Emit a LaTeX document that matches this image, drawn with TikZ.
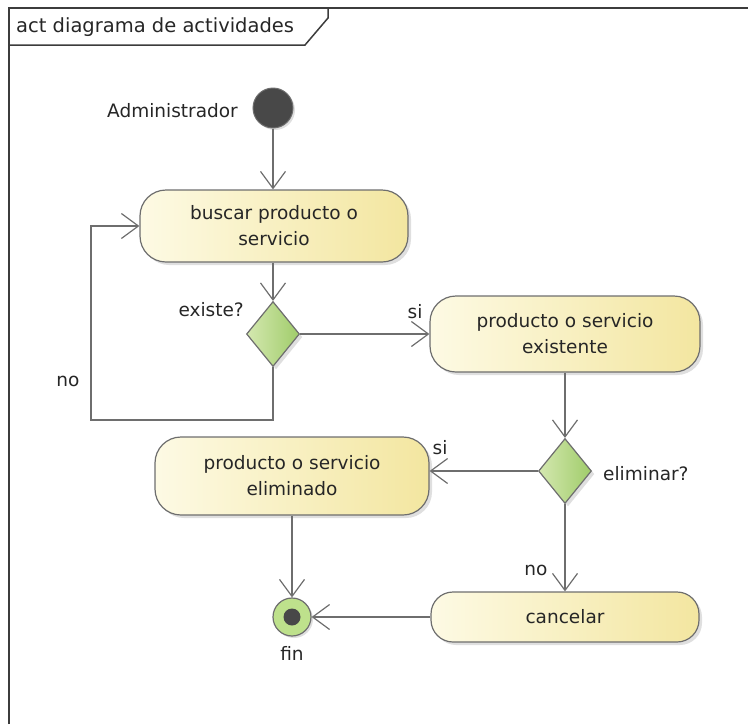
\documentclass[tikz,border=0pt]{standalone}
\usepackage{fontspec}
\setmainfont{DejaVu Sans}
\usepackage{tikz}
\usetikzlibrary{shapes.geometric, arrows.meta, positioning, calc, shadows}
\definecolor{framegray}{RGB}{60, 60, 60}
\definecolor{linegray}{RGB}{110, 110, 110}
\definecolor{creamleft}{RGB}{253, 250, 228}
\definecolor{creamright}{RGB}{243, 230, 160}
\definecolor{greenleft}{RGB}{212, 232, 176}
\definecolor{greenright}{RGB}{160, 204, 106}
\definecolor{startgray}{RGB}{72, 72, 72}
\definecolor{fingreen}{RGB}{190, 225, 140}
\tikzstyle{activity} = [rectangle, draw=linegray, left color=creamleft, right color=creamright, text=black!85, align=center, rounded corners=26pt, minimum width=270pt, line width=1.2pt, drop shadow={opacity=0.25, shadow xshift=3pt, shadow yshift=-3pt}]
\tikzstyle{decision} = [diamond, draw=linegray, left color=greenleft, right color=greenright, inner sep=0pt, minimum width=53pt, minimum height=65pt, line width=1.2pt, drop shadow={opacity=0.25, shadow xshift=3pt, shadow yshift=-3pt}]
\tikzstyle{arrow} = [-{Straight Barb[length=17pt, width=25pt, line width=1.2pt]}, draw=linegray, line width=1.2pt]
\tikzstyle{lbl} = [inner sep=0pt, text=black!85]

\begin{document}
\begin{tikzpicture}[x=1pt, y=-1pt, font=\fontsize{18.5}{26}\selectfont]
    \useasboundingbox (0,0) rectangle (748,724);

    % Frame
    \draw[framegray, line width=2pt] (9,724) -- (9,8) -- (748,8);
    \draw[framegray, line width=1.5pt] (9,45) -- (305,45) -- (328,18) -- (328,8);
    \node[lbl, anchor=west, font=\fontsize{19.5}{26}\selectfont] (title) at (16,27) {act diagrama de actividades};

    % Start
    \node[circle, draw=linegray, fill=startgray, minimum size=40pt, line width=1pt, drop shadow={opacity=0.25, shadow xshift=2pt, shadow yshift=-2pt}] (start) at (273,108) {};
    \node[lbl, anchor=east] (actor) at (238,111) {Administrador};

    % Search
    \node[activity, minimum width=268pt, minimum height=72pt] (buscar) at (274,226) {buscar producto o\\servicio};

    % Exists?
    \node[decision] (existe) at (273,334) {};
    \node[lbl, anchor=east] (existelbl) at (244,310) {existe?};

    % Existing
    \node[activity, minimum height=76pt] (existente) at (565,334) {producto o servicio\\existente};

    % Delete?
    \node[decision] (eliminar) at (565,471) {};
    \node[lbl, anchor=west] (eliminarlbl) at (603,474) {eliminar?};

    % Deleted
    \node[activity, minimum width=274pt, minimum height=78pt] (eliminado) at (292,476) {producto o servicio\\eliminado};

    % Cancel
    \node[activity, minimum width=268pt, minimum height=50pt, rounded corners=22pt] (cancelar) at (565,617) {cancelar};

    % End
    \node[circle, draw=linegray, fill=fingreen, minimum size=38pt, line width=1.2pt, drop shadow={opacity=0.25, shadow xshift=2pt, shadow yshift=-2pt}] (fin) at (292,617) {};
    \node[circle, fill=startgray, minimum size=17pt, inner sep=0pt] (finin) at (fin) {};
    \node[lbl] (finlbl) at (292,653) {fin};

    % Loop corners
    \coordinate (loopa) at (273,420);
    \coordinate (loopb) at (91,420);
    \coordinate (loopc) at (91,226);

    % Arrows
    \draw[arrow] (start) -- (start |- buscar.north);
    \draw[arrow] (start |- buscar.south) -- (existe);
    \draw[arrow] (existe.east) -- (existente.west);
    \draw[arrow] (existe.south) -- (loopa) -- (loopb) -- (loopc) -- (buscar.west);
    \draw[arrow] (existente) -- (eliminar);
    \draw[arrow] (eliminar.west) -- (eliminado.east |- eliminar.west);
    \draw[arrow] (eliminar) -- (cancelar);
    \draw[arrow] (eliminado) -- (fin);
    \draw[arrow] (cancelar) -- (fin);

    % Labels
    \node[lbl] (si1) at (415,312) {si};
    \node[lbl] (no1) at (68,381) {no};
    \node[lbl] (si2) at (440,448) {si};
    \node[lbl] (no2) at (536,570) {no};
\end{tikzpicture}
\end{document}
